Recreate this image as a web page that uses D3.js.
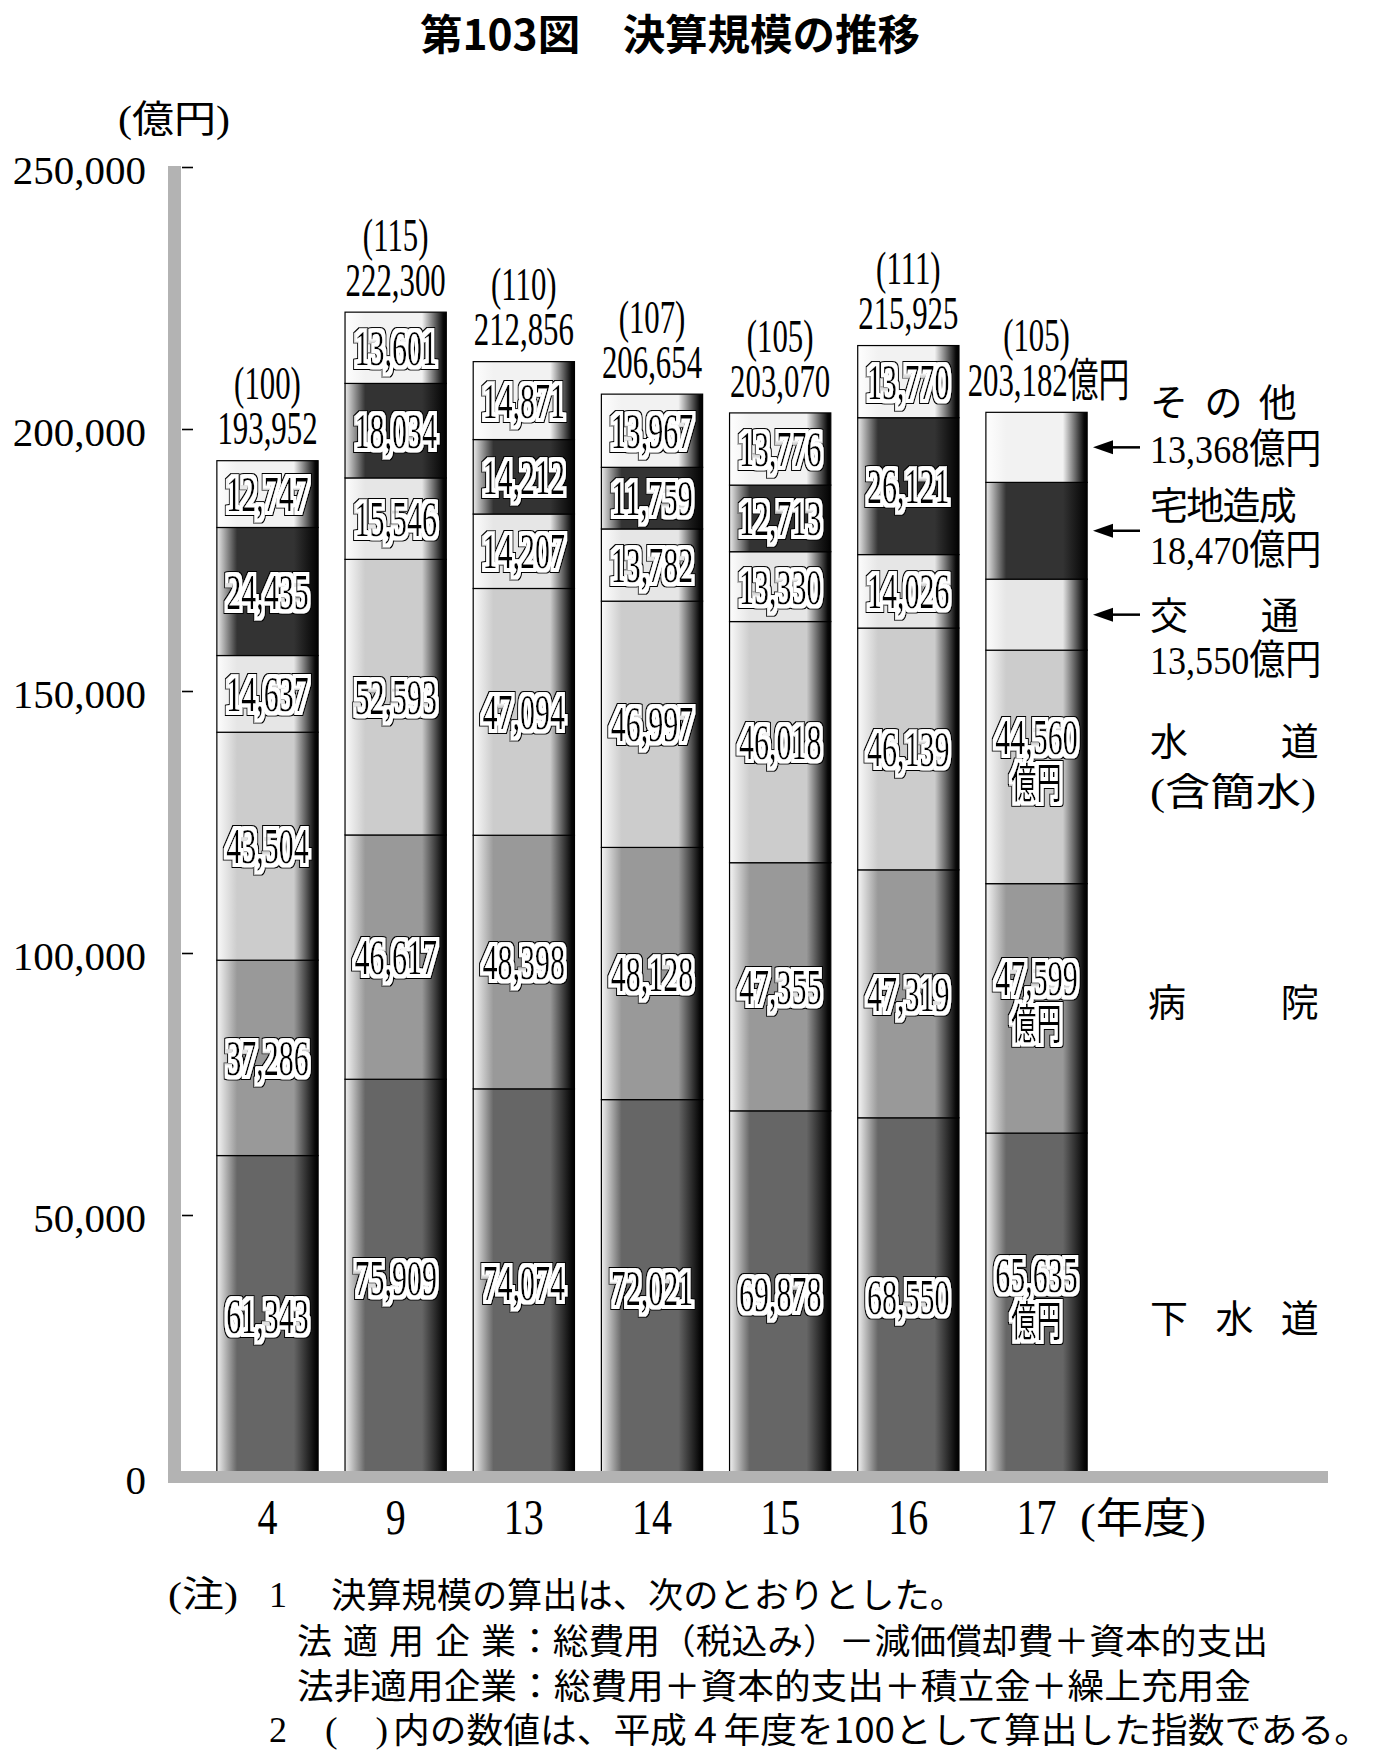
<!DOCTYPE html>
<html><head><meta charset="utf-8">
<script src="https://cdn.jsdelivr.net/npm/d3@7"></script>
<style>body{margin:0;background:#fff}</style>
</head><body>
<svg id="c" width="1400" height="1759" xmlns="http://www.w3.org/2000/svg"></svg>
<script>
// ---- data ----
const years = ["4","9","13","14","15","16","17"];
const indexLabels = ["(100)","(115)","(110)","(107)","(105)","(111)","(105)"];
const seriesNames = ["下水道","病院","水道","交通","宅地造成","その他"];
const gesuido = [61343,75909,74074,72021,69878,68550,65635];
const byoin   = [37286,46617,48398,48128,47355,47319,47599];
const suido   = [43504,52593,47094,46997,46018,46139,44560];
const kotsu   = [14637,15546,14207,13782,13330,14026,13550];
const takuchi = [24435,18034,14212,11759,12713,26121,18470];
const sonota  = [12747,13601,14871,13967,13776,13770,13368];
const yTicks = [0,50000,100000,150000,200000,250000];
const seriesColors = ["#666666","#999999","#cccccc","#e6e6e6","#333333","#f2f2f2"];

const keys = ["s0","s1","s2","s3","s4","s5"];
const seriesArrays = [gesuido,byoin,suido,kotsu,takuchi,sonota];
const table = years.map((yr,i)=>{
  const o = {year:yr};
  keys.forEach((k,j)=>o[k]=seriesArrays[j][i]);
  return o;
});
const stacked = d3.stack().keys(keys)(table);

const SERIF = "'Liberation Serif','Noto Sans CJK JP',serif";
const CJK = "'Noto Sans CJK JP',sans-serif";
const fmt = d3.format(",");

const svg = d3.select("#c");
const x = d3.scaleBand().domain(years).range([203.4,1100.6]).paddingInner(0.21).paddingOuter(0.105);
const y = d3.scaleLinear().domain([0,250000]).range([1477,167]);

// gradients
const defs = svg.append("defs");
seriesColors.forEach((c,i)=>{
  const g = defs.append("linearGradient").attr("id","grad"+i)
    .attr("x1","0").attr("x2","1").attr("y1","0").attr("y2","0");
  g.append("stop").attr("offset","0").attr("stop-color", d3.interpolateRgb(c,"#ffffff")(0.9));
  g.append("stop").attr("offset","0.2").attr("stop-color", c);
  g.append("stop").attr("offset","0.76").attr("stop-color", c);
  g.append("stop").attr("offset","0.97").attr("stop-color", "#080808");
  g.append("stop").attr("offset","1").attr("stop-color", "#000");
});
// halo filter: white halo + thin black outline (radii in local units; x is scaled by 0.6)
const f = defs.append("filter").attr("id","halo")
  .attr("x","-15%").attr("y","-30%").attr("width","130%").attr("height","160%");
f.append("feMorphology").attr("in","SourceAlpha").attr("operator","dilate").attr("radius","5.6 3.6").attr("result","w");
f.append("feMorphology").attr("in","SourceAlpha").attr("operator","dilate").attr("radius","7.2 4.6").attr("result","b");
f.append("feFlood").attr("flood-color","#fff").attr("result","fw");
f.append("feComposite").attr("in","fw").attr("in2","w").attr("operator","in").attr("result","wh");
f.append("feFlood").attr("flood-color","#000").attr("result","fb");
f.append("feComposite").attr("in","fb").attr("in2","b").attr("operator","in").attr("result","bk");
const fm = f.append("feMerge");
fm.append("feMergeNode").attr("in","bk");
fm.append("feMergeNode").attr("in","wh");
fm.append("feMergeNode").attr("in","SourceGraphic");

// title
svg.append("text").attr("x",670).attr("y",50).attr("text-anchor","middle")
  .attr("font-family",CJK).attr("font-weight","bold").attr("font-size",42)
  .attr("textLength",500).attr("lengthAdjust","spacingAndGlyphs")
  .text("第103図　決算規模の推移");

// unit
svg.append("text").attr("x",118).attr("y",132).attr("font-family",SERIF).attr("font-size",38)
  .attr("textLength",112).attr("lengthAdjust","spacingAndGlyphs").text("(億円)");

// bars
const layers = svg.append("g").selectAll("g").data(stacked).join("g")
  .attr("fill",(d,i)=>`url(#grad${i})`);
layers.selectAll("rect").data(d=>d).join("rect")
  .attr("x", d=>x(d.data.year)).attr("width", x.bandwidth())
  .attr("y", d=>y(d[1])).attr("height", d=>y(d[0])-y(d[1]))
  .attr("stroke","#000").attr("stroke-width",1.2);

// haloed label (single text element, optional second line as tspan)
function halo(parent, cx, cy, value, withUnit){
  const g = parent.append("g").attr("transform",`translate(${cx},${cy})`);
  const t = g.append("text").attr("text-anchor","middle").attr("font-family",SERIF)
    .attr("fill","#000").attr("filter","url(#halo)")
    .attr("transform","scale(0.6,1)");
  if(!withUnit){
    t.attr("font-size",50).attr("y",17).text(value);
  } else {
    t.attr("font-size",50);
    t.append("tspan").attr("x",0).attr("y",-30+17).text(value);
    t.append("tspan").attr("x",0).attr("y",15+16).attr("font-size",42)
      .attr("font-family",CJK).text("億円");
  }
}
const labelG = svg.append("g");
stacked.forEach((layer,si)=>{
  layer.forEach((d,bi)=>{
    const cx = x(d.data.year)+x.bandwidth()/2;
    const cy = (y(d[0])+y(d[1]))/2;
    const v = d[1]-d[0];
    if(bi < years.length-1){
      halo(labelG, cx, cy, fmt(v), false);
    } else if(si < 3){
      halo(labelG, cx, cy, fmt(v), true);
    }
  });
});

// totals and indices
const tops = stacked[stacked.length-1];
tops.forEach((d,i)=>{
  const cx = x(d.data.year)+x.bandwidth()/2;
  const ty = y(d[1]);
  const last = i===years.length-1;
  svg.append("g").attr("transform",`translate(${last?cx+12:cx},${ty-32}) scale(0.67,1)`)
    .append("text").attr("text-anchor","middle").attr("y",0.34*46)
    .attr("font-family",SERIF).attr("font-size",46).text(fmt(d[1])+(last?"億円":""));
  svg.append("g").attr("transform",`translate(${cx},${ty-77}) scale(0.67,1)`)
    .append("text").attr("text-anchor","middle").attr("y",0.34*46)
    .attr("font-family",SERIF).attr("font-size",46).text(indexLabels[i]);
});

// axes frame (gray)
svg.append("rect").attr("x",168).attr("y",166).attr("width",13).attr("height",1317).attr("fill","#b3b3b3");
svg.append("rect").attr("x",168).attr("y",1471).attr("width",1160).attr("height",12).attr("fill","#b3b3b3");

// y ticks
svg.append("g").attr("transform","translate(182,0)")
  .call(d3.axisRight(y).tickValues(yTicks.filter(v=>v>0)).tickSize(11).tickFormat(""))
  .call(g=>g.select(".domain").remove())
  .selectAll("line").attr("stroke","#000").attr("stroke-width",1.6);
svg.append("g").attr("transform","translate(146,0)")
  .call(d3.axisLeft(y).tickValues(yTicks).tickSize(0).tickPadding(0).tickFormat(fmt))
  .call(g=>g.select(".domain").remove())
  .selectAll("text").attr("font-family",SERIF).attr("font-size",41).attr("fill","#000").attr("dy","0.4em");

// x axis
svg.append("g").attr("transform","translate(0,1483)")
  .call(d3.axisBottom(x).tickSize(0))
  .call(g=>g.select(".domain").remove())
  .selectAll("text").attr("font-family",SERIF).attr("font-size",50).attr("fill","#000")
  .attr("y",51).attr("dy",0).attr("transform","scale(0.8,1)");
svg.append("text").attr("x",1080).attr("y",1533).attr("font-family",SERIF).attr("font-size",42)
  .attr("textLength",126).attr("lengthAdjust","spacingAndGlyphs").text("(年度)");

// legend on right
function spread(str, L, R, yc, fs){
  const chars = Array.from(str);
  const w = fs*0.98;
  const step = (R-L-w)/(chars.length-1);
  chars.forEach((ch,k)=>{
    svg.append("text").attr("x",L+k*step).attr("y",yc+0.38*fs).attr("font-family",CJK)
      .attr("font-size",fs).text(ch);
  });
}
function legendValue(str, yc){
  svg.append("g").attr("transform",`translate(1150,${yc}) scale(0.88,1)`)
    .append("text").attr("y",0.34*41).attr("font-family",SERIF).attr("font-size",41).text(str);
}
const last = years.length-1;
spread("その他",1150,1296,401.6,38);
legendValue(fmt(sonota[last])+"億円",449);
spread("宅地造成",1150,1296,504.8,38);
legendValue(fmt(takuchi[last])+"億円",550);
spread("交通",1150,1298,614.7,38);
legendValue(fmt(kotsu[last])+"億円",660);
spread("水道",1150,1318,740.4,38);
svg.append("text").attr("x",1150).attr("y",791+14).attr("font-family",SERIF).attr("font-size",38)
  .attr("textLength",166).attr("lengthAdjust","spacingAndGlyphs").text("(含簡水)");
spread("病院",1148,1318,1001.8,38);
spread("下水道",1150,1318,1318,38);

// arrows pointing to top three segments of last bar
[5,4,3].forEach(si=>{
  const d = stacked[si][last];
  const ay = (y(d[0])+y(d[1]))/2;
  svg.append("polygon").attr("points",`1093,${ay} 1113,${ay-7} 1113,${ay+7}`).attr("fill","#000");
  svg.append("line").attr("x1",1110).attr("x2",1140).attr("y1",ay).attr("y2",ay).attr("stroke","#000").attr("stroke-width",2.5);
});

// notes
function note(str, x0, yc, len, fam, fs){
  const t = svg.append("text").attr("x",x0).attr("y",yc+(fam===CJK?0.37*fs:0.34*fs))
    .attr("font-family",fam).attr("font-size",fs).text(str);
  if(len) t.attr("textLength",len).attr("lengthAdjust","spacingAndGlyphs");
}
note("(注)",168,1595,70,SERIF,36);
note("1",269,1595,null,SERIF,36);
note("決算規模の算出は、次のとおりとした。",331,1595,634,CJK,35);
Array.from("法適用企業").forEach((ch,k)=>note(ch,297+k*46,1641,null,CJK,35));
note("：総費用（税込み）－減価償却費＋資本的支出",517,1641,751,CJK,35);
note("法非適用企業",297,1686,220,CJK,35);
note("：総費用＋資本的支出＋積立金＋繰上充用金",517,1686,734,CJK,35);
note("2",269,1730,null,SERIF,36);
note("(　)",325,1730,63,SERIF,36);
note("内の数値は、平成４年度を100として算出した指数である。",393,1730,978,CJK,35);
</script>
</body></html>
